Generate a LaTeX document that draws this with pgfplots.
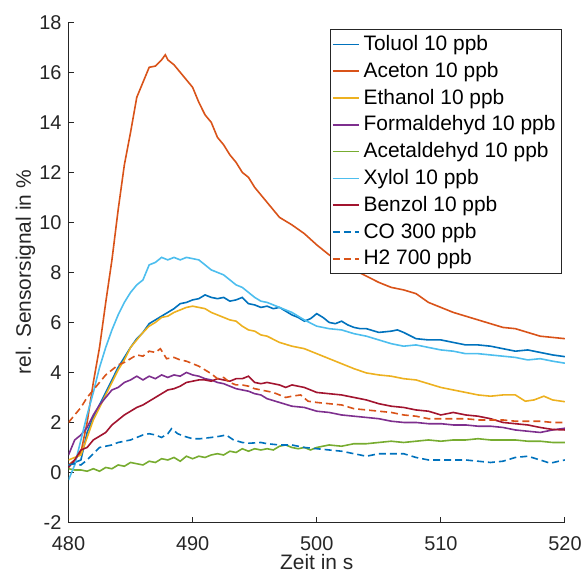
\documentclass[border=0pt]{standalone}
\usepackage{fontspec}
\setmainfont{Liberation Sans}
\usepackage{pgfplots}
\pgfplotsset{compat=1.18}

\definecolor{axgray}{rgb}{0.15,0.15,0.15}
\definecolor{c1}{rgb}{0,0.447,0.741}
\definecolor{c2}{rgb}{0.85,0.325,0.098}
\definecolor{c3}{rgb}{0.929,0.694,0.125}
\definecolor{c4}{rgb}{0.494,0.184,0.556}
\definecolor{c5}{rgb}{0.466,0.674,0.188}
\definecolor{c6}{rgb}{0.301,0.745,0.933}
\definecolor{c7}{rgb}{0.635,0.078,0.184}

\begin{document}
\begin{tikzpicture}
\path[use as bounding box] (-34.25bp,-29.25bp) rectangle (258.25bp,261.25bp);
\begin{axis}[
    at={(0,0)}, anchor=south west,
    scale only axis, width=248.25bp, height=250.1bp,
    xmin=480, xmax=520, ymin=-2, ymax=18,
    xtick={480,490,500,510,520},
    ytick={-2,0,2,4,6,8,10,12,14,16,18},
    axis x line=bottom, axis y line=left,
    axis line style={-, draw=axgray, line width=0.5bp},
    tick align=inside, major tick length=2.5bp,
    tick style={draw=axgray, line width=0.5bp},
    ticklabel style={font=\fontsize{10}{12}\selectfont, text=axgray},
    xticklabel style={yshift=-3.5bp},
    /pgf/number format/assume math mode=true,
    xlabel={Zeit in s}, ylabel={rel. Sensorsignal in \%},
    label style={font=\fontsize{10.5}{12}\selectfont, text=axgray},
    xlabel style={at={(axis description cs:0.5,0)}, anchor=center, yshift=-19.6bp},
    ylabel style={at={(axis description cs:0,0.5)}, anchor=center, yshift=21.5bp},
    no markers,
    every axis plot/.append style={line width=0.8bp},
    legend style={at={(0.994,0.987)}, anchor=north east, draw=axgray,
        line width=0.5bp, font=\fontsize{10.5}{12}\selectfont, text=black,
        inner xsep=1bp, inner ysep=1bp, row sep=0.35bp,
        /tikz/every even column/.append style={column sep=1bp}},
    legend cell align=left,
    legend image code/.code={\draw[#1, line width=0.8bp] (0bp,0bp) -- (13bp,0bp);},
]
% Toluol
\addplot[c1] coordinates {
(480,0.3) (480.5,0.4) (481,0.5) (481.5,1.6) (482,2.2) (482.5,2.7) (483,3.2) (483.5,3.7)
(484,4.2) (484.5,4.6) (485,5.0) (485.5,5.35) (486,5.6) (486.5,5.95) (487,6.1) (487.5,6.25)
(488,6.4) (488.5,6.55) (489,6.75) (489.5,6.8) (490,6.9) (490.5,6.95) (491,7.1) (491.5,7.0)
(492,6.95) (492.5,7.0) (493,6.85) (493.5,6.9) (494,7.0) (494.5,6.75) (495,6.7) (495.5,6.6)
(496,6.65) (496.5,6.55) (497,6.6) (497.5,6.45) (498,6.3) (498.5,6.2) (499,6.05) (499.5,6.15)
(500,6.35) (500.5,6.2) (501,6.0) (501.5,5.95) (502,6.05) (502.5,5.9) (503,5.8) (503.5,5.75)
(504,5.75) (505,5.6) (506,5.65) (506.5,5.7) (507,5.6) (508,5.35) (509,5.3) (510,5.3)
(511,5.2) (512,5.1) (513,5.1) (514,5.05) (515,4.95) (516,4.85) (517,4.9) (518,4.8)
(519,4.7) (520,4.63)};
\addlegendentry{Toluol 10 ppb}
% Aceton
\addplot[c2] coordinates {
(480,0.3) (480.5,0.5) (481,0.8) (481.5,2.0) (482,3.6) (482.5,5.0) (483,6.8) (483.5,8.5)
(484,10.5) (484.5,12.3) (485,13.6) (485.5,15.0) (486,15.6) (486.5,16.2) (487,16.25) (487.5,16.5)
(487.8,16.7) (488,16.5) (488.5,16.3) (489,16.0) (489.5,15.7) (490,15.4) (490.5,14.8) (491,14.3)
(491.5,14.0) (492,13.4) (492.5,13.1) (493,12.7) (493.5,12.4) (494,12.0) (494.5,11.8) (495,11.4)
(495.5,11.1) (496,10.8) (497,10.2) (498,9.9) (499,9.55) (500,9.1) (501,8.7) (502,8.4)
(503,8.1) (504,7.85) (505,7.6) (506,7.4) (507,7.3) (508,7.15) (509,6.8) (510,6.6)
(511,6.4) (512,6.25) (513,6.1) (514,5.95) (515,5.8) (516,5.75) (517,5.6) (518,5.45)
(519,5.4) (520,5.35)};
\addlegendentry{Aceton 10 ppb}
% Ethanol
\addplot[c3] coordinates {
(480,0.5) (480.5,0.6) (481,0.7) (481.5,1.4) (482,2.1) (482.5,2.6) (483,3.1) (483.5,3.6)
(484,4.1) (484.5,4.5) (485,5.0) (485.5,5.3) (486,5.6) (486.5,5.85) (487,6.0) (487.5,6.2)
(488,6.25) (488.5,6.4) (489,6.5) (489.5,6.6) (490,6.65) (490.5,6.6) (491,6.55) (491.5,6.4)
(492,6.3) (492.5,6.2) (493,6.1) (493.5,6.05) (494,5.85) (494.5,5.7) (495,5.65) (495.5,5.5)
(496,5.45) (497,5.2) (498,5.05) (499,4.95) (500,4.75) (501,4.55) (502,4.35) (503,4.15)
(504,3.98) (505,3.9) (506,3.85) (507,3.75) (508,3.7) (509,3.55) (510,3.4) (511,3.3)
(512,3.2) (513,3.1) (514,3.05) (515,3.1) (516,3.1) (516.8,2.85) (517.5,2.9) (518.3,3.05)
(519,2.9) (520,2.83)};
\addlegendentry{Ethanol 10 ppb}
% Formaldehyd
\addplot[c4] coordinates {
(480,0.7) (480.5,1.3) (481,1.5) (481.5,1.8) (482,2.3) (482.5,2.7) (483,3.0) (483.5,3.3)
(484,3.4) (484.5,3.6) (485,3.7) (485.5,3.85) (486,3.7) (486.5,3.85) (487,3.75) (487.5,3.9)
(488,3.8) (488.5,3.9) (489,3.85) (489.5,4.0) (490,3.9) (490.5,3.85) (491,3.75) (491.5,3.7)
(492,3.6) (492.5,3.55) (493,3.45) (493.5,3.35) (494,3.3) (494.5,3.25) (495,3.15) (495.5,3.1)
(496,2.95) (497,2.8) (498,2.65) (499,2.6) (500,2.45) (501,2.4) (502,2.3) (503,2.25)
(504,2.2) (505,2.15) (506,2.05) (507,2.0) (508,2.0) (509,1.95) (510,1.95) (511,1.9)
(512,1.9) (513,1.85) (514,1.85) (515,1.8) (516,1.7) (517,1.65) (518,1.6) (519,1.7)
(520,1.77)};
\addlegendentry{Formaldehyd 10 ppb}
% Acetaldehyd
\addplot[c5] coordinates {
(480,0.15) (480.5,0.1) (481,0.1) (481.5,0.05) (482,0.15) (482.5,0.05) (483,0.2) (483.5,0.15)
(484,0.3) (484.5,0.25) (485,0.4) (485.5,0.35) (486,0.3) (486.5,0.45) (487,0.4) (487.5,0.55)
(488,0.5) (488.5,0.6) (489,0.45) (489.5,0.65) (490,0.55) (490.5,0.65) (491,0.6) (491.5,0.7)
(492,0.75) (492.5,0.7) (493,0.85) (493.5,0.8) (494,0.95) (494.5,0.85) (495,0.95) (495.5,0.9)
(496,0.95) (496.5,0.9) (497,1.05) (497.5,1.1) (498,1.0) (498.5,0.95) (499,1.0) (499.5,0.9)
(500,1.0) (501,1.1) (502,1.05) (503,1.15) (504,1.15) (505,1.2) (506,1.25) (507,1.2)
(508,1.25) (509,1.3) (510,1.25) (511,1.3) (512,1.3) (513,1.35) (514,1.3) (515,1.3)
(516,1.3) (517,1.25) (518,1.25) (519,1.2) (520,1.2)};
\addlegendentry{Acetaldehyd 10 ppb}
% Xylol
\addplot[c6] coordinates {
(480,-0.3) (480.5,0.3) (481,1.3) (481.5,2.3) (482,3.2) (482.5,4.2) (483,5.0) (483.5,5.7)
(484,6.3) (484.5,6.8) (485,7.2) (485.5,7.5) (486,7.7) (486.5,8.3) (487,8.4) (487.5,8.6)
(488,8.5) (488.5,8.6) (489,8.5) (489.5,8.6) (490,8.55) (490.5,8.5) (491,8.3) (491.5,8.1)
(492,8.0) (492.5,7.9) (493,7.7) (493.5,7.5) (494,7.4) (494.5,7.2) (495,7.0) (495.5,6.85)
(496,6.8) (497,6.6) (498,6.4) (499,6.1) (500,5.85) (501,5.75) (502,5.7) (503,5.55)
(504,5.45) (505,5.3) (506,5.15) (507,5.05) (508,5.1) (509,5.0) (510,4.9) (511,4.85)
(512,4.75) (513,4.75) (514,4.7) (515,4.65) (516,4.6) (517,4.5) (518,4.55) (519,4.45)
(520,4.37)};
\addlegendentry{Xylol 10 ppb}
% Benzol
\addplot[c7] coordinates {
(480,0.2) (480.5,0.5) (481,0.9) (481.5,1.0) (482,1.3) (482.5,1.45) (483,1.6) (483.5,1.9)
(484,2.1) (484.5,2.3) (485,2.45) (485.5,2.6) (486,2.7) (486.5,2.85) (487,3.0) (487.5,3.15)
(488,3.3) (488.5,3.35) (489,3.45) (489.5,3.6) (490,3.65) (490.5,3.7) (491,3.7) (491.5,3.65)
(492,3.75) (492.5,3.7) (493,3.65) (493.5,3.75) (494,3.75) (494.5,3.85) (495,3.6) (495.5,3.55)
(496,3.6) (497,3.5) (497.5,3.4) (498,3.5) (499,3.4) (500,3.2) (501,3.15) (502,3.1)
(503,3.0) (504,2.9) (505,2.75) (506,2.65) (507,2.6) (508,2.5) (509,2.45) (510,2.3)
(511,2.4) (512,2.3) (513,2.25) (514,2.15) (515,2.0) (516,1.95) (517,1.9) (518,1.8)
(519,1.72) (520,1.7)};
\addlegendentry{Benzol 10 ppb}
% CO
\addplot[c1, dash pattern=on 3.5bp off 2bp] coordinates {
(480,0.3) (480.5,0.35) (481,0.3) (481.5,0.5) (482,0.75) (482.5,1.0) (483,1.05) (483.5,1.1)
(484,1.2) (484.5,1.25) (485,1.3) (485.5,1.4) (486,1.5) (486.5,1.55) (487,1.5) (487.5,1.4)
(488,1.55) (488.3,1.75) (488.8,1.55) (489.3,1.45) (490,1.35) (490.6,1.35) (491.5,1.4) (492.2,1.45)
(492.7,1.5) (493.3,1.3) (494,1.2) (494.6,1.17) (495.5,1.2) (496,1.15) (497,1.1) (498,1.1)
(499,1.0) (500,0.95) (501,0.9) (502,0.85) (503,0.75) (504,0.65) (505,0.75) (506,0.75)
(507,0.75) (508,0.6) (509,0.5) (510,0.5) (511,0.5) (512,0.5) (513,0.45) (514,0.4)
(515,0.45) (516,0.6) (517,0.65) (518,0.5) (518.8,0.37) (519.5,0.45) (520,0.5)};
\addlegendentry{CO 300 ppb}
% H2
\addplot[c2, dash pattern=on 3.5bp off 2bp] coordinates {
(480,2.0) (480.5,2.3) (481,2.6) (481.5,3.0) (482,3.3) (482.5,3.6) (483,3.9) (483.5,4.1)
(484,4.3) (484.5,4.4) (485,4.55) (485.5,4.7) (486,4.65) (486.5,4.85) (487,4.8) (487.4,4.95)
(487.9,4.55) (488.5,4.6) (489,4.5) (489.5,4.45) (490,4.35) (490.5,4.25) (491,4.1) (491.5,3.95)
(492,3.75) (492.5,3.8) (493,3.6) (493.5,3.5) (494,3.5) (494.5,3.45) (495,3.35) (495.5,3.3)
(496,3.25) (496.5,3.2) (497,3.1) (497.5,3.0) (498,3.05) (498.7,3.1) (499.3,2.85) (500,2.8)
(501,2.75) (502,2.7) (503,2.55) (504,2.5) (505,2.45) (506,2.4) (507,2.3) (508,2.25)
(509,2.15) (510,2.15) (511,2.15) (512,2.15) (513,2.1) (514,2.1) (515,2.1) (516,2.05)
(517,2.05) (518,2.05) (519,2.0) (520,2.0)};
\addlegendentry{H2 700 ppb}
\end{axis}
\end{tikzpicture}
\end{document}
